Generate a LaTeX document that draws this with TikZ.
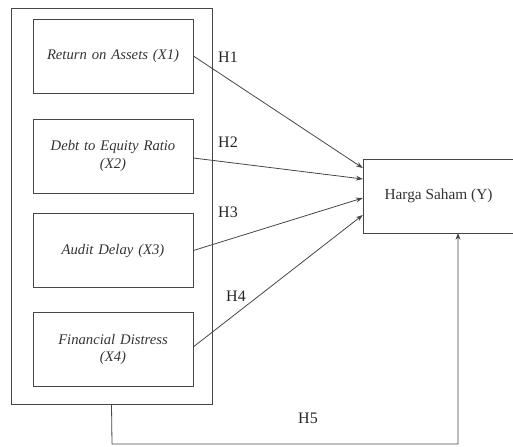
\documentclass[tikz,border=0pt]{standalone}
\usepackage{fontspec}
\setmainfont{Liberation Serif}
\usetikzlibrary{arrows.meta,positioning,calc}
\definecolor{ink}{RGB}{70,70,70}
\tikzset{
  >={Stealth[length=1.8mm,width=1.3mm]},
  varbox/.style={draw=ink,line width=0.6pt,minimum width=120pt,minimum height=55.5pt,
    align=center,text width=112pt,font=\fontsize{11}{13}\selectfont\itshape,text=black!80},
  groupbox/.style={draw=ink,line width=0.6pt,minimum width=150.75pt,minimum height=297pt},
  depbox/.style={draw=ink,line width=0.6pt,minimum width=113pt,minimum height=55.5pt,
    font=\fontsize{11.5}{13}\selectfont,text=black!80},
  hyp/.style={->,draw=ink,line width=0.6pt},
  hlabel/.style={font=\fontsize{12}{14}\selectfont,text=black!85},
}
\begin{document}
\begin{tikzpicture}[x=0.75pt,y=-0.75pt]
  \useasboundingbox (0,0) rectangle (513,446);
  \node[groupbox] (grp) at (111.5,206) {};
  \node[varbox] (roa) at (113,56) {Return on Assets (X1)};
  \node[varbox] (der) at (113,156) {Debt to Equity Ratio\\(X2)};
  \node[varbox] (ad) at (113,250.5) {Audit Delay (X3)};
  \node[varbox] (fd) at (113,349.5) {Financial Distress\\(X4)};
  \node[depbox] (hs) at (438.5,196) {Harga Saham (Y)};
  % hypotheses
  \draw[hyp] (roa.east) -- ([yshift=21pt]hs.west);
  \draw[hyp] ([yshift=-1.5pt]der.east) -- ([yshift=12.75pt]hs.west);
  \draw[hyp] (ad.east) -- ([yshift=-1.5pt]hs.west);
  \draw[hyp] ([yshift=2pt]fd.east) -- ([yshift=-14.25pt]hs.west);
  \node[hlabel] (h1) at (228,57) {H1};
  \node[hlabel] (h2) at (228,142) {H2};
  \node[hlabel] (h3) at (228,212) {H3};
  \node[hlabel] (h4) at (236,296) {H4};
  \coordinate (bend) at (112,444);
  \coordinate (yin) at (458,233);
  \draw[hyp] (grp.south) -- (bend) -| (yin);
  \node[hlabel] (h5) at (308,418) {H5};
\end{tikzpicture}
\end{document}
